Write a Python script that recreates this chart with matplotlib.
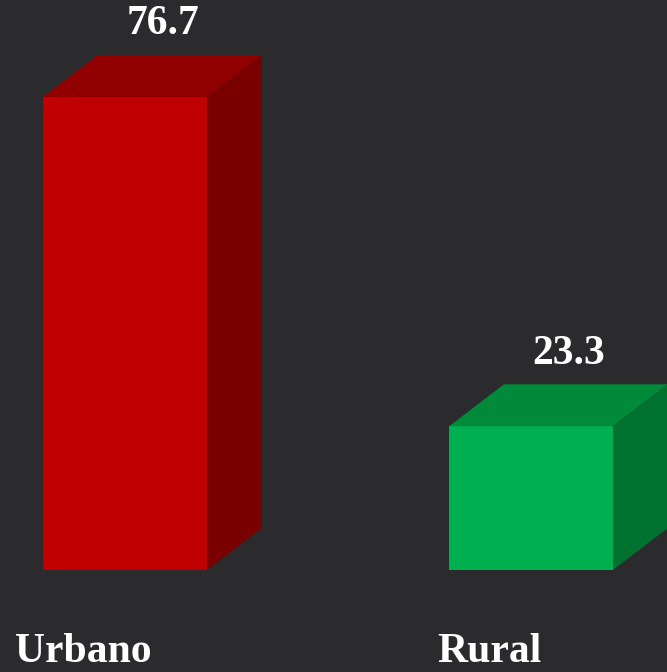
import matplotlib.pyplot as plt
from matplotlib.patches import Polygon

categories = ['Urbano', 'Rural']
values = [76.7, 23.3]
front_colors = ['#c00000', '#00b050']
top_colors = ['#900000', '#008a3a']
side_colors = ['#7a0000', '#00722f']

bg = '#2b2b2d'
bar_w = 0.404
depth_x = 0.1355
depth_y = 6.81

fig = plt.figure(figsize=(6.67, 6.72), dpi=100, facecolor=bg)
ax = fig.add_axes([0, 0, 1, 1], facecolor=bg)
ax.set_xlim(-0.308, 1.335)
ax.set_ylim(-16.54, 92.43)
ax.axis('off')

for i, (cat, v) in enumerate(zip(categories, values)):
    x0 = i - bar_w / 2
    x1 = i + bar_w / 2
    # front face
    ax.add_patch(Polygon([(x0, 0), (x1, 0), (x1, v), (x0, v)],
                         closed=True, facecolor=front_colors[i], edgecolor='none'))
    # top face
    ax.add_patch(Polygon([(x0, v), (x1, v), (x1 + depth_x, v + depth_y), (x0 + depth_x, v + depth_y)],
                         closed=True, facecolor=top_colors[i], edgecolor='none'))
    # right side face
    ax.add_patch(Polygon([(x1, 0), (x1 + depth_x, depth_y), (x1 + depth_x, v + depth_y), (x1, v)],
                         closed=True, facecolor=side_colors[i], edgecolor='none'))

    ax.annotate(f'{v:.1f}', xy=(i, v + depth_y), xytext=(27, 22),
                textcoords='offset points', ha='center', va='center',
                color='white', fontsize=30, fontweight='bold',
                family='Liberation Serif')
    ax.annotate(cat, xy=(i, 0), xytext=(-30, -59),
                textcoords='offset points', ha='center', va='center',
                color='white', fontsize=30, fontweight='bold',
                family='Liberation Serif')

fig.savefig('out.png', dpi=100, facecolor=bg)
